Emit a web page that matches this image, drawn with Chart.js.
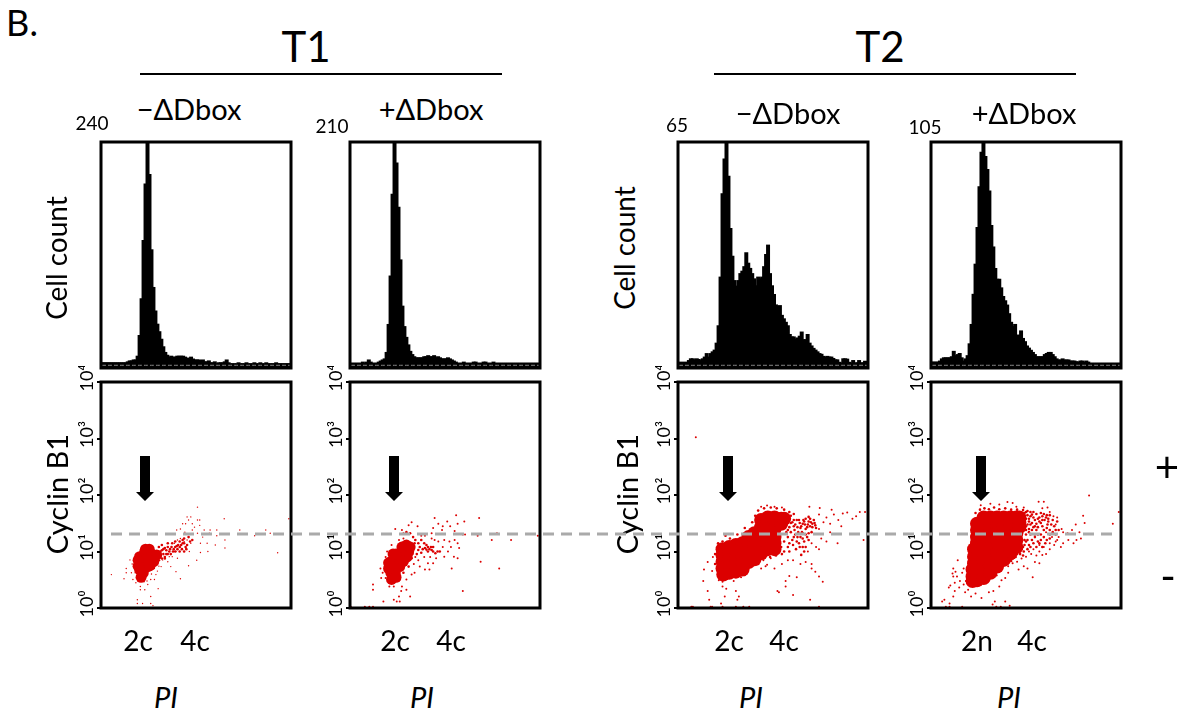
<!DOCTYPE html>
<html>
<head>
<meta charset="utf-8">
<style>
  html, body { margin: 0; background: #fff; }
  #page { position: relative; width: 1195px; height: 711px; overflow: hidden; font-family: Lato, "Open Sans", sans-serif; color: #000; }
  canvas { position: absolute; }
  .t { position: absolute; white-space: nowrap; line-height: 1; transform: translate(-50%, -50%); }
  .rot { transform: translate(-50%, -50%) rotate(-90deg); }
  svg { position: absolute; left: 0; top: 0; }
</style>
<script src="https://cdn.jsdelivr.net/npm/chart.js@4/dist/chart.umd.min.js"></script>
</head>
<body>
<div id="page"></div>
<script>
// histogram counts, 96 PI bins per panel
const t1MinusHist = [5,5,5,5,5,5,5,5,5,5,5,5,5,6,7,7,8,8,12,34,73,135,195,240,205,125,85,60,46,38,30,22,16,13,11,12,11,11,12,12,12,12,11,10,9,11,9,8,8,8,7,8,6,6,7,5,5,6,4,5,5,5,6,8,5,4,4,4,4,5,4,4,4,5,4,4,4,5,4,4,5,4,4,5,4,4,4,4,5,4,4,4,4,4,4,4];
const t1PlusHist = [4,4,4,4,4,4,5,4,5,7,5,4,4,4,5,6,7,8,14,40,85,161,210,190,149,100,57,38,28,21,15,12,10,9,9,9,9,10,10,11,10,10,11,9,10,9,8,8,8,9,8,7,6,5,4,4,4,5,4,4,4,4,5,5,4,4,4,5,5,4,4,4,5,4,4,4,4,4,4,4,4,4,4,4,4,4,4,4,4,4,4,4,4,4,4,4];
const t2MinusHist = [1.5,1.5,1.5,1.5,1.5,2,2.5,2.5,2.2,2.5,2.3,2,2.5,3,4,3,4,4.5,5,7,12,26,50,60,65,55,40,32,25,23.4,25,27,27.7,29,33,30,28.5,27,25.5,23.5,26,25.5,26,29,32.5,35.2,27,23.5,21,18,17.5,17.8,15,14,13,12,9.5,8.8,8.8,8.2,8.5,9,10.2,8,8,9.5,7,6.2,5.5,5,4.5,4,3.8,3.2,3,3.2,3,3,2.6,2.2,2.2,1.5,1.3,2.5,2.5,2.4,1.5,1.3,2,1.2,1.4,2,1.2,1.4,1.8,1.5];
const t2PlusHist = [2.5,2.5,2.5,2.5,3,4,4.5,4.5,4.5,4.5,5,7.5,5.5,6,6.5,4.5,3,4,5.5,11,20,34,48,65,84,100,105,98,92,82,66,56,46,41,41,37,33,31,29,25,21,19,20,15,15,17,13.5,12,10,9,8,7,6,5,5,5,5,6,6.5,7,7,6,5,4,3.5,3.5,4,3.5,3.5,3.5,3,3,3,2.7,2.5,3,3,2.5,3,2.5,2,2,2,2,2,2,2,2,2,2,2,2,2,2,2,2];
const histMax = [240, 210, 65, 105];
const baseFraction = 0.012;

// Cyclin B1 vs PI events: dense centre, thinner edge, stray events
const t1MinusCore = [[52,8.1],[59,10],[65,10],[70,8.7],[75,8.7],[52,6.2],[59,7.1],[65,7.1],[71,6.6],[52,4.8],[59,5.1],[63,5.4],[54,3.5],[57,4.2],[60,11],[65,11],[50,7],[50,5.5],[66,5.6]];
const t1MinusEdge = [[80,10],[82,10.5],[84,11],[86,11.5],[88,10.5],[90,12],[93,11],[95,12],[98,11],[100,12],[102,12.5],[104,13],[106,12],[108,13],[110,14],[112,14],[114,12],[116,13],[80,8],[84,9],[86,8],[88,9],[90,9],[92,10],[94,9],[97,10],[100,10],[103,11],[106,10],[109,11],[112,10],[115,11],[78,7],[82,7.5],[86,7.5],[120,15],[106,15],[110,16],[112,17],[118,18],[123,16],[78,12],[82,13],[90,14],[96,14],[100,15]];
const t1MinusStray = [[130,61],[116,41],[121,41],[110,31],[114,31],[118,36],[123,31],[130,36],[133,36],[126,27],[133,29],[139,24],[107,25],[102,24],[113,22],[123,24],[137,18],[130,21],[147,24],[146,21],[156,24],[156,19],[166,38],[167,16],[167,11.5],[187,24],[207,19],[222,24],[228,21],[253,38],[238,9.5],[99,14],[103,16],[107,17],[112,15],[116,16],[121,14],[107,12],[114,11.5],[119,10],[101,10],[96,8.1],[103,7.6],[90,6.6],[81,5.4],[94,5.4],[101,4.4],[83,7.1],[92,8.1],[129,7],[118,5.6],[134,14],[134,9.6],[143,14],[144,10],[154,13],[14,3.9],[31,3.3],[34,5],[39,7.1],[34,4.2],[41,4.2],[43,3.2],[47,2.8],[53,2.4],[53,2.1],[49,1.4],[49,1.2],[56,1.2],[67,1.6],[67,1.2],[70,1.1],[77,2.2],[72,3.2],[74,3.9],[67,3.2],[63,2.6],[107,3.3],[59,2.1],[44,5.5],[42,6],[45,8],[46,4.2],[72,5],[78,5.5],[76,4.5],[68,4],[62,3],[58,2.9],[50,3]];

const t1PlusCore = [[55,5.4],[55,4.2],[56,3.2],[55,6.6],[61,7.1],[61,5.4],[61,4.2],[67,9.3],[67,7.1],[67,5.4],[74,11],[74,8.7],[76,13],[79,10],[52,5],[52,6.3],[58,9],[62,9],[70,12],[77,8],[72,6.7],[62,3.5],[81,12]];
const t1PlusEdge = [[101,11.5],[103,10.8],[105,12],[107,11],[110,10.6],[105,10],[103,13],[109,12],[112,10],[115,9.3],[118,10],[121,10],[92,14],[94,12],[92,10.6],[96,16],[85,18],[88,16],[81,21],[76,22],[87,14],[85,10.6],[83,7.6],[79,5.4],[72,4.2],[67,3.2],[98,11],[96,9.5],[90,9],[84,9],[100,14],[112,12]];
const t1PlusStray = [[61,25],[70,24],[83,33],[91,28],[72,21],[79,29],[96,19],[101,19],[110,21],[114,39],[119,31],[112,26],[124,24],[131,34],[125,28],[143,44],[135,28],[141,23],[145,31],[154,34],[152,20],[155,20],[174,39],[172,19],[191,16],[198,21],[217,16],[253,19],[176,6.6],[201,5],[152,2],[137,5],[127,16],[134,15],[141,16],[145,14],[147,11.5],[136,12],[132,10],[125,12],[119,15],[114,16],[110,17],[145,7.6],[140,8.1],[127,8.1],[116,7.6],[112,6.2],[105,6.2],[101,4.8],[107,4.8],[94,5.4],[87,4.2],[83,3.9],[76,3.2],[41,5],[44,4.2],[42,3.4],[48,3.4],[31,2.6],[31,2.1],[45,1.3],[20,1.05],[26,1.05],[31,1.05],[1,1.05],[59,1.4],[63,1.3],[67,1.3],[66,1.6],[70,2.4],[76,2.1],[81,1.6],[69,2],[53,2.4],[59,2.4],[48,8],[50,10],[56,13],[66,16],[72,17],[88,8],[92,7],[86,6],[80,7],[76,6],[100,8],[108,8]];

const t2MinusCore = [[60,11],[60,8.7],[60,6.6],[60,5],[61,3.9],[69,12],[69,9.3],[69,7.1],[69,5.4],[69,4.2],[78,13],[78,10],[78,7.6],[78,5.8],[78,4.4],[87,14],[87,10.6],[87,8.1],[87,6.2],[87,4.8],[95,18],[95,14],[95,10.6],[95,8.1],[95,6.5],[103,21],[103,16],[103,12],[103,9.3],[103,7.3],[112,36],[112,27],[112,21],[112,16],[112,12],[112,9.3],[121,40],[121,33],[121,25],[121,19],[121,15],[121,11],[130,40],[130,33],[130,25],[130,18],[130,14],[130,11],[139,38],[139,31],[143,38]];
const t2MinusEdge = [[152,43],[156,36],[150,27],[148,18],[143,15],[139,12],[157,24],[161,27],[163,36],[168,31],[172,38],[176,41],[179,33],[183,36],[185,29],[181,27],[172,25],[168,21],[161,18],[163,14],[170,15],[174,18],[159,11],[166,8.7],[170,10],[108,53],[116,58],[125,60],[133,58],[143,55],[150,50],[104,43],[100,33],[90,26],[80,20],[70,17],[156,46],[167,22],[146,30],[148,36],[152,22],[156,28],[165,26],[170,34],[175,30],[178,28],[154,16],[148,12],[150,10],[143,10],[140,9],[132,8.5],[124,8],[116,7.6],[108,6],[64,19],[60,15],[54,14],[50,9],[50,6],[150,38],[154,33],[158,30],[160,36],[164,32],[166,28],[169,36],[171,30],[174,27],[176,34],[178,38],[181,31],[184,32],[186,26],[158,20],[162,22],[165,18],[168,17],[172,20],[176,16],[160,15],[164,12],[168,12],[172,12],[155,13],[150,14],[146,22],[144,26],[152,32],[148,24],[156,18],[180,22],[176,21]];
const t2MinusStray = [[24,1050],[177,62],[191,59],[207,55],[190,45],[200,40],[210,45],[222,47],[228,49],[245,50],[252,50],[240,42],[196,33],[205,31],[216,36],[220,28],[235,38],[190,25],[205,22],[250,16],[215,14],[193,17],[186,12],[200,15],[180,14],[175,10],[190,11],[155,7],[165,6],[172,6.5],[180,6],[185,4.4],[190,3.6],[195,2.9],[180,5],[160,3.5],[150,3.7],[145,3],[145,2.4],[130,5],[118,5.5],[108,6.3],[100,5.5],[90,3.8],[75,3],[60,2.9],[55,3.1],[46,4.5],[40,6.5],[47,8],[35,4.8],[34,3],[40,2],[42,1.4],[60,2.4],[65,2.2],[78,2],[82,1.6],[80,1.4],[63,1.6],[58,1.2],[155,1.7],[178,1.4],[190,1.05],[18,1.05],[20,1.05],[44,1.05],[46,1.05],[60,1.05],[78,1.05],[88,1.05],[96,1.05],[134,2],[148,7],[140,6],[125,7.6],[115,7],[107,7.5],[112,5],[120,5.8],[136,1.9],[95,5],[85,3.5],[70,3.4],[112,62],[120,65],[130,62],[140,60]];

const t2PlusCore = [[56,4.8],[56,3.6],[56,3],[58,11],[58,8.1],[58,6.2],[62,31],[62,24],[62,18],[62,14],[62,11],[62,8.1],[62,6.2],[62,4.8],[62,3.6],[62,3.1],[71,40],[71,36],[71,27],[71,21],[71,16],[71,12],[71,9.3],[71,7.1],[71,5.4],[71,4.2],[71,3.4],[80,40],[80,36],[80,27],[80,21],[80,16],[80,12],[80,9.3],[80,7.1],[80,5.4],[80,4.2],[89,40],[89,36],[89,27],[89,21],[89,16],[89,12],[89,9.3],[89,7.1],[89,5.4],[98,40],[98,36],[98,27],[98,21],[98,16],[98,12],[98,9.3],[98,7.1],[107,40],[107,36],[107,27],[107,21],[107,16],[107,12],[107,9.3],[115,40],[115,36],[115,27],[115,21],[115,16],[115,12],[119,40],[119,33],[119,27]];
const t2PlusEdge = [[128,50],[130,44],[132,38],[130,30],[132,25],[128,20],[126,16],[124,12],[120,10],[112,8.5],[105,7.6],[100,6],[92,5],[136,45],[140,36],[138,27],[142,31],[146,40],[150,28],[148,20],[140,20],[136,16],[132,13],[144,15],[153,36],[157,30],[160,24],[56,2.5],[62,2.6],[78,3.5],[88,3.8],[72,58],[85,60],[100,58],[60,48],[66,55],[78,56],[92,56],[108,55],[116,55],[124,54],[134,50],[138,40],[134,30],[128,24],[134,20],[130,16],[126,13],[122,11],[116,9],[110,7.5],[102,6.5],[96,5.5],[142,24],[146,34],[150,42],[156,44],[158,38],[126,48],[130,52],[134,42],[138,50],[142,46],[144,38],[148,48],[150,36],[152,46],[155,40],[158,34],[160,44],[162,30],[164,36],[166,28],[168,24],[170,34],[128,38],[132,34],[136,32],[140,28],[144,27],[148,32],[152,24],[156,26],[160,20],[164,22],[168,20],[172,24],[128,28],[132,22],[136,24],[140,18],[144,20],[148,16],[152,18],[156,16],[160,17],[130,11],[134,12],[138,14],[142,12],[146,14],[150,12],[154,14],[128,15],[125,10],[120,9],[114,8],[108,6.8],[100,7],[124,8.5]];
const t2PlusStray = [[213,98],[67,66],[80,70],[92,68],[103,75],[110,72],[115,62],[125,60],[145,76],[152,76],[150,58],[157,60],[160,50],[165,42],[170,40],[168,30],[176,25],[178,22],[184,21],[190,24],[195,30],[200,22],[202,17],[196,16],[192,14],[185,16],[178,14],[170,16],[175,12],[166,13],[160,11],[155,9],[146,13],[150,8.7],[142,8.5],[135,9],[128,8.1],[122,7.5],[116,6.6],[110,6.2],[104,5.5],[146,6.2],[140,6.5],[125,5.5],[130,5],[118,4.8],[104,4.2],[100,3.4],[95,3.1],[137,3.5],[205,43],[207,32],[245,31],[253,50],[26,2.5],[32,2.8],[30,3.6],[29,4.1],[33,4.4],[35,3.6],[42,4.2],[44,5],[36,7],[30,5],[39,3],[44,2.6],[47,3],[50,2.1],[46,1.9],[38,2.3],[32,2],[24,2.3],[18,1.4],[15,1.3],[25,1.2],[30,1.6],[54,1.6],[60,1.8],[68,1.5],[78,1.9],[84,2],[92,2.4],[86,1.3],[83,1.15],[100,1.3],[106,1.1],[20,1.05],[25,1.05],[42,1.05],[88,1.05],[94,1.05],[155,22],[163,18],[168,15],[172,18],[160,14],[152,12],[146,10],[138,11],[132,10]];

const cellLabels = ['−ΔDbox', '+ΔDbox', '−ΔDbox', '+ΔDbox'];
const countLabels = ['240', '210', '65', '105'];
const dnaLabels = [['2c', '4c'], ['2c', '4c'], ['2c', '4c'], ['2n', '4c']];
const decadeLabels = { 1: '10⁰', 10: '10¹', 100: '10²', 1000: '10³', 10000: '10⁴' };

const panelHists = [t1MinusHist, t1PlusHist, t2MinusHist, t2PlusHist];
const panelCores = [t1MinusCore, t1PlusCore, t2MinusCore, t2PlusCore];
const panelEdges = [t1MinusEdge, t1PlusEdge, t2MinusEdge, t2PlusEdge];
const panelStrays = [t1MinusStray, t1PlusStray, t2MinusStray, t2PlusStray];
const binLabels = t1MinusHist.map((_, i) => i);

// layout of the figure
const frameLeft = [100.5, 349.5, 677.5, 930.5];
const frameW = 190, histTop = 141.5, histH = 226, scatTop = 381.5, scatH = 226;
const axisW = 30, pad = 16;
const RED = '#dc0000';

const frame = {
  id: 'frame',
  afterDraw(chart) {
    const { ctx, chartArea: a } = chart;
    ctx.save();
    ctx.strokeStyle = '#000';
    ctx.lineWidth = 3;
    ctx.strokeRect(a.left, a.top, a.right - a.left, a.bottom - a.top);
    ctx.restore();
  }
};

const page = document.getElementById('page');

function addCanvas(left, top, h) {
  const c = document.createElement('canvas');
  c.width = axisW + frameW + pad;
  c.height = h + pad * 2;
  c.style.left = (left - axisW) + 'px';
  c.style.top = (top - pad) + 'px';
  page.appendChild(c);
  return c;
}

function addText(text, x, y, size, extra) {
  const s = document.createElement('div');
  s.className = 't' + (extra && extra.rot ? ' rot' : '');
  s.textContent = text;
  s.style.left = x + 'px';
  s.style.top = y + 'px';
  s.style.fontSize = size + 'px';
  if (extra && extra.italic) s.style.fontStyle = 'italic';
  page.appendChild(s);
}

function drawHist(i) {
  const max = histMax[i];
  new Chart(addCanvas(frameLeft[i], histTop, histH), {
    data: {
      labels: binLabels,
      datasets: [
        { type: 'line', order: 0, data: binLabels.map(() => max * baseFraction), borderColor: '#888', borderWidth: 1, borderDash: [4, 2], pointRadius: 0 },
        { type: 'bar', order: 1, data: panelHists[i], backgroundColor: '#000', barPercentage: 1, categoryPercentage: 1, borderWidth: 0, inflateAmount: 1 }
      ]
    },
    options: {
      responsive: false,
      animation: false,
      devicePixelRatio: 1,
      layout: { padding: { left: axisW, top: pad, right: pad, bottom: pad } },
      plugins: { legend: { display: false }, tooltip: { enabled: false } },
      scales: {
        x: { display: false },
        y: { display: false, min: 0, max: max }
      }
    },
    plugins: [frame]
  });
}

function drawScatter(i) {
  const dots = (data, r) => ({ data, backgroundColor: RED, borderWidth: 0, pointRadius: r, pointBorderWidth: 0 });
  new Chart(addCanvas(frameLeft[i], scatTop, scatH), {
    type: 'scatter',
    data: {
      datasets: [
        dots(panelStrays[i].map(p => ({ x: p[0], y: p[1] })), i === 0 ? 0.7 : 1),
        dots(panelEdges[i].map(p => ({ x: p[0], y: p[1] })), i === 0 ? 1.3 : 1.3),
        dots(panelCores[i].map(p => ({ x: p[0], y: p[1] })), i < 2 ? 5.5 : 7)
      ]
    },
    options: {
      responsive: false,
      animation: false,
      devicePixelRatio: 1,
      layout: { padding: { left: 0, top: pad, right: pad, bottom: pad } },
      plugins: { legend: { display: false }, tooltip: { enabled: false } },
      scales: {
        x: { type: 'linear', display: false, min: 0, max: 256 },
        y: {
          type: 'logarithmic',
          min: 1,
          max: 10000,
          afterFit: s => { s.width = axisW; },
          // only decades get a tick, as on the FACS plot
          afterBuildTicks: s => { s.ticks = s.ticks.filter(t => decadeLabels[t.value]); },
          border: { display: false },
          grid: { drawOnChartArea: false, drawTicks: true, tickLength: 4, color: '#000', lineWidth: 2 },
          ticks: {
            color: '#000',
            font: { family: 'Lato', size: 18 },
            autoSkip: false,
            minRotation: 90,
            maxRotation: 90,
            crossAlign: 'center',
            padding: -4,
            labelOffset: -4,
            callback: v => decadeLabels[v] || ''
          }
        }
      }
    },
    plugins: [frame]
  });
}

[0, 1, 2, 3].forEach(i => { drawHist(i); drawScatter(i); });

// figure text
addText('B.', 22, 22, 36);
addText('T1', 306, 46, 42);
addText('T2', 880, 46, 42);
[[189, 108], [431, 108], [788, 112], [1024, 112]].forEach((p, i) => addText(cellLabels[i], p[0], p[1], 29));
[[92, 122], [332, 125], [677, 124], [925, 126]].forEach((p, i) => addText(countLabels[i], p[0], p[1], 19));
[[56, 258], [624, 248]].forEach(p => addText('Cell count', p[0], p[1], 28, { rot: true }));
[[56, 494], [626, 494]].forEach(p => addText('Cyclin B1', p[0], p[1], 29, { rot: true }));
[[138, 195], [395, 451], [729, 784], [977, 1032]].forEach((p, i) => {
  addText(dnaLabels[i][0], p[0], 640, 28);
  addText(dnaLabels[i][1], p[1], 640, 28);
});
[166, 422, 751, 1009].forEach(x => addText('PI', x, 696, 29, { italic: true }));
addText('+', 1167, 466, 42);
addText('-', 1168, 575, 42);

// rules, dashed gate and arrows on top of the plots
const arrowX = [145, 394, 728, 981];
let svg = '<svg width="1195" height="711">';
svg += '<line x1="140" x2="502" y1="74" y2="74" stroke="#000" stroke-width="2"/>';
svg += '<line x1="714" x2="1076" y1="74" y2="74" stroke="#000" stroke-width="2"/>';
svg += '<line x1="111" x2="1115" y1="534" y2="534" stroke="#aaa" stroke-width="3" stroke-dasharray="11 7"/>';
arrowX.forEach(x => {
  svg += '<polygon fill="#000" points="' + [[x-5,456],[x+5,456],[x+5,492],[x+9,492],[x,501],[x-9,492],[x-5,492]].map(p => p.join(',')).join(' ') + '"/>';
});
svg += '</svg>';
page.insertAdjacentHTML('beforeend', svg);
</script>
</body>
</html>
